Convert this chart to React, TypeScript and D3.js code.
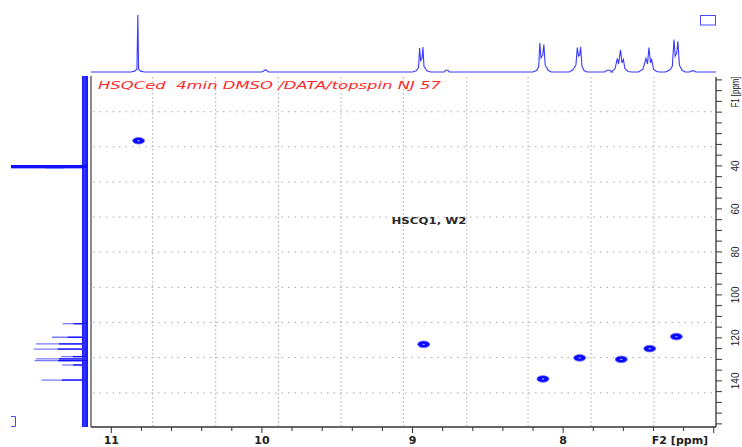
import React from 'react';
import * as d3 from 'd3';

const W = 742;
const H = 447;

// 1H projection (F2) trace: [ppm, relative intensity]
const topTrace: [number, number][] = [
  [11.135, 0], [10.87, 0], [10.845, 1.5], [10.83, 5], [10.824, 100], [10.819, 5], [10.805, 1.5], [10.78, 0],
  [10.0, 0], [9.975, 4], [9.955, 0],
  [9.0, 0], [8.975, 2], [8.96, 8], [8.953, 42], [8.946, 20], [8.937, 24], [8.931, 44], [8.924, 10], [8.905, 2], [8.88, 0],
  [8.79, 0], [8.78, 3], [8.765, 3], [8.755, 0],
  [8.2, 0], [8.175, 3], [8.162, 10], [8.155, 51], [8.147, 25], [8.135, 30], [8.128, 48], [8.119, 12], [8.1, 3], [8.08, 0],
  [7.96, 0], [7.935, 4], [7.915, 12], [7.906, 43], [7.898, 28], [7.89, 30], [7.884, 44], [7.875, 10], [7.86, 2], [7.84, 0],
  [7.725, 0], [7.708, 3], [7.69, 3], [7.675, 0],
  [7.68, 0], [7.655, 6], [7.64, 24], [7.632, 14], [7.619, 39], [7.609, 16], [7.6, 22], [7.59, 6], [7.57, 1], [7.545, 0],
  [7.5, 0], [7.47, 5], [7.45, 24], [7.44, 14], [7.43, 43], [7.42, 16], [7.412, 22], [7.4, 5], [7.38, 1], [7.36, 0],
  [7.32, 0], [7.29, 4], [7.275, 10], [7.264, 57], [7.256, 28], [7.245, 34], [7.238, 54], [7.228, 12], [7.21, 3], [7.19, 0],
  [7.16, 0], [7.147, 2], [7.132, 2], [7.118, 0], [6.985, 0],
];

// 13C projection (F1) peaks: [ppm, relative intensity]
const leftPeaks: [number, number][] = [
  [40.3, 100], [113.4, 32], [119.7, 46], [122.8, 67], [125.2, 70], [128.7, 34],
  [129.8, 67], [130.6, 69], [132.6, 33], [139.6, 60],
];

// HSQC cross peaks: [F2 ppm, F1 ppm]
const crossPeaks: [number, number][] = [
  [10.819, 28.3], [8.926, 123.0], [8.134, 139.1], [7.89, 129.3],
  [7.614, 130.0], [7.425, 125.0], [7.248, 119.4],
];

const xLabels = [11, 10, 9, 8];
const yLabels = [40, 60, 80, 100, 120, 140];
const xGrid = [10.725, 10.307, 9.891, 9.475, 9.061, 8.64, 8.233, 7.815, 7.397];
const yGrid = [14.8, 31.1, 47.5, 63.8, 80.1, 96.5, 112.8, 129.1, 145.6];

export default function App() {
  const x = d3.scaleLinear().domain([11.135, 6.985]).range([91, 716]);
  const y = d3.scaleLinear().domain([-1.35, 161.45]).range([77, 427]);
  const topI = d3.scaleLinear().domain([0, 100]).range([72, 15]);
  const leftI = d3.scaleLinear().domain([0, 100]).range([87, 11]);

  const topLine = d3
    .line<[number, number]>()
    .x((d) => x(d[0]))
    .y((d) => topI(d[1]));

  const xMinor = d3.range(0, 21).map((i) => 11 - i * 0.2);
  const yMinor = d3.range(0, 33).map((i) => i * 5);

  const plotTop = 77;
  const plotBottom = 427;
  const plotLeft = 91;
  const plotRight = 716;

  return (
    <svg
      width={W}
      height={H}
      style={{ position: 'absolute', left: 0, top: 0, background: '#fff' }}
    >
      {/* grid */}
      {xGrid.map((g, i) => (
        <line
          key={'xg' + i}
          x1={x(g)}
          x2={x(g)}
          y1={plotTop}
          y2={plotBottom}
          stroke="#a8a8a8"
          strokeWidth={1}
          strokeDasharray="1.5,2.5"
        />
      ))}
      {yGrid.map((g, i) => (
        <line
          key={'yg' + i}
          x1={plotLeft + 2}
          x2={plotRight - 2}
          y1={y(g)}
          y2={y(g)}
          stroke="#a8a8a8"
          strokeWidth={1}
          strokeDasharray="1.5,5"
        />
      ))}

      {/* top projection */}
      <path d={topLine(topTrace) || ''} fill="none" stroke="#3a3aff" strokeWidth={1.1} />

      {/* left projection noise band */}
      <rect x={82} y={76} width={6} height={351} fill="#1c1cff" />
      <rect x={83.5} y={76} width={2} height={351} fill="#4a4aff" opacity={0.6} />
      {leftPeaks.map((p, i) => (
        <g key={'lp' + i}>
          <line
            x1={leftI(0)}
            x2={leftI(p[1])}
            y1={y(p[0])}
            y2={y(p[0])}
            stroke="#7a7aff"
            strokeWidth={p[1] > 90 ? 3.2 : 1.3}
          />
          <line
            x1={leftI(0)}
            x2={leftI(p[1] * 0.55)}
            y1={y(p[0])}
            y2={y(p[0])}
            stroke="#1010ff"
            strokeWidth={p[1] > 90 ? 3.2 : 1.3}
          />
        </g>
      ))}
      <line x1={leftI(100)} x2={leftI(30)} y1={y(40.3)} y2={y(40.3)} stroke="#1010ff" strokeWidth={3.2} />

      {/* frame */}
      <line x1={plotLeft} x2={plotLeft} y1={76} y2={plotBottom} stroke="#707070" strokeWidth={1.6} />
      <line x1={plotLeft} x2={plotRight} y1={plotBottom} y2={plotBottom} stroke="#333" strokeWidth={1.3} />
      <line x1={plotRight} x2={plotRight} y1={plotTop} y2={plotBottom} stroke="#333" strokeWidth={1.3} />

      {/* bottom axis ticks */}
      {xMinor.map((t, i) => {
        const major = Math.abs(t - Math.round(t)) < 1e-6;
        return (
          <line
            key={'xt' + i}
            x1={x(t)}
            x2={x(t)}
            y1={plotBottom}
            y2={plotBottom + (major ? 6 : 4)}
            stroke="#333"
            strokeWidth={1}
          />
        );
      })}
      {xLabels.map((t) => (
        <text
          key={'xl' + t}
          x={x(t)}
          y={444}
          textAnchor="middle"
          fontFamily="DejaVu Sans"
          fontWeight="bold"
          fontSize={11}
          fill="#222"
        >
          {t}
        </text>
      ))}
      <text x={680} y={444} textAnchor="middle" fontFamily="DejaVu Sans" fontWeight="bold" fontSize={11} fill="#222">
        F2 [ppm]
      </text>

      {/* right axis ticks */}
      {yMinor.map((t, i) => (
        <line
          key={'yt' + i}
          x1={plotRight}
          x2={plotRight + 6}
          y1={y(t)}
          y2={y(t)}
          stroke="#333"
          strokeWidth={1}
        />
      ))}
      {yLabels.map((t) => (
        <text
          key={'yl' + t}
          transform={`translate(738.5, ${y(t)}) rotate(-90)`}
          textAnchor="middle"
          fontFamily="Liberation Sans"
          fontSize={10}
          fill="#222"
        >
          {t}
        </text>
      ))}
      <text
        transform={`translate(738.5, 92) rotate(-90)`}
        textAnchor="middle"
        fontFamily="Liberation Sans"
        fontSize={10}
        fill="#222"
        textLength={31}
        lengthAdjust="spacingAndGlyphs"
      >
        F1 [ppm]
      </text>

      {/* cross peaks */}
      {crossPeaks.map((p, i) => (
        <g key={'cp' + i}>
          <ellipse cx={x(p[0])} cy={y(p[1])} rx={6} ry={3.3} fill="#0808ff" stroke="#6a6aff" strokeWidth={0.8} />
          <ellipse cx={x(p[0])} cy={y(p[1])} rx={1.4} ry={0.7} fill="#9a9aff" />
        </g>
      ))}

      {/* title */}
      <text
        x={98}
        y={88.5}
        fontFamily="DejaVu Sans"
        fontStyle="italic"
        fontSize={10.5}
        fill="#ff2a2a"
        textLength={343}
        lengthAdjust="spacingAndGlyphs"
        style={{ whiteSpace: 'pre' }}
      >
        {'HSQCed  4min DMSO /DATA/topspin NJ 57'}
      </text>

      <text
        x={429}
        y={223.5}
        textAnchor="middle"
        fontFamily="DejaVu Sans"
        fontWeight="bold"
        fontSize={9.5}
        fill="#2a2a2a"
        textLength={75}
        lengthAdjust="spacingAndGlyphs"
      >
        HSCQ1, W2
      </text>

      {/* small decorations */}
      <rect x={700.5} y={15.5} width={15} height={9.5} fill="none" stroke="#4a4aff" strokeWidth={1} />
      <path d="M11,416.5 H15.5 V426.5 H11" fill="none" stroke="#4a4aff" strokeWidth={1} />
    </svg>
  );
}
